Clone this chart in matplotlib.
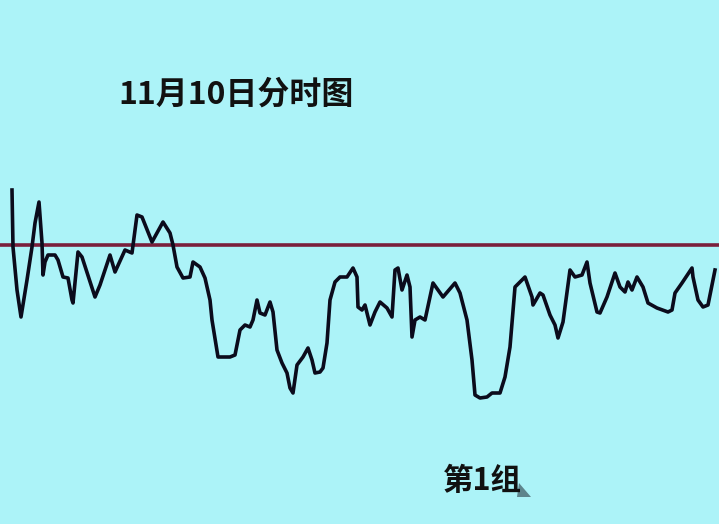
import matplotlib
matplotlib.use("Agg")
import matplotlib.pyplot as plt
from matplotlib.patches import Polygon

plt.rcParams['font.family'] = ['Noto Sans CJK SC', 'DejaVu Sans']

title = "11月10日分时图"
group_label = "第1组"

# time position (ticks from open) and price change vs previous close (ticks)
time_pos = [0, 1, 5, 9, 15, 20, 23, 27, 30, 31, 33, 36, 43, 46, 51, 56, 60, 61, 66, 70,
            83, 88, 98, 103, 113, 120, 125, 130, 140, 151, 158, 161, 165, 171, 178, 181,
            188, 193, 198, 200, 206, 218, 223, 228, 233, 238, 241, 245, 248, 253, 258,
            261, 265, 270, 275, 278, 281, 285, 291, 296, 300, 303, 308, 311, 315, 318,
            323, 328, 335, 341, 345, 346, 350, 353, 358, 363, 368, 375, 380, 383, 386,
            390, 395, 398, 400, 403, 408, 413, 421, 426, 431, 443, 448, 455, 460, 463,
            468, 475, 480, 488, 493, 498, 503, 508, 513, 520, 521, 528, 531, 538, 543,
            546, 551, 558, 563, 570, 575, 578, 585, 588, 595, 603, 608, 613, 616, 620,
            625, 631, 636, 645, 656, 660, 663, 670, 680, 681, 686, 691, 696, 703]
price_chg = [55, -2, -45, -72, -35, -2, 22, 43, 2, -30, -17, -10, -10, -15, -32, -33,
             -55, -58, -7, -12, -52, -40, -10, -27, -5, -8, 30, 28, 3, 23, 12, 0, -22,
             -33, -32, -17, -22, -33, -55, -75, -112, -112, -110, -85, -80, -82, -75,
             -55, -68, -70, -57, -67, -105, -118, -128, -143, -148, -120, -112, -103,
             -115, -128, -127, -123, -98, -55, -37, -32, -32, -23, -32, -62, -65, -60,
             -80, -67, -57, -63, -72, -25, -23, -45, -30, -42, -92, -75, -72, -75, -38,
             -45, -52, -38, -48, -75, -115, -150, -153, -152, -148, -148, -132, -102,
             -42, -37, -32, -52, -60, -48, -50, -70, -80, -93, -77, -25, -32, -30, -17,
             -38, -67, -68, -52, -28, -42, -47, -37, -45, -32, -42, -58, -63, -67, -65,
             -48, -38, -23, -32, -55, -62, -60, -25]
ref_level = 0

fig = plt.figure(figsize=(7.19, 5.24), dpi=100)
bg = "#acf3f8"
fig.patch.set_facecolor(bg)
ax = fig.add_axes([0, 0, 1, 1])
ax.set_facecolor(bg)

ax.axhline(ref_level, color="#7a1f3c", linewidth=2.6, zorder=2)
ax.plot(time_pos, price_chg, color="#0b0b1c", linewidth=2.6, zorder=3,
        solid_joinstyle="round")

ax.set_xlim(-12, 707)
ax.set_ylim(-279, 245)
ax.axis("off")

fig.text(118 / 719, 1 - 95 / 524, title, fontsize=23, fontweight="bold",
         color="#111111", ha="left", va="center")
fig.text(443 / 719, 1 - 481 / 524, group_label, fontsize=22, fontweight="bold",
         color="#111111", ha="left", va="center")

tri = Polygon([(519 / 719, 1 - 483 / 524), (531 / 719, 1 - 497 / 524),
               (517 / 719, 1 - 497 / 524)], closed=True,
              transform=fig.transFigure, facecolor="#2b3a44", alpha=0.6,
              edgecolor="none")
fig.patches.append(tri)

fig.savefig("out.png", dpi=100, facecolor=bg)
